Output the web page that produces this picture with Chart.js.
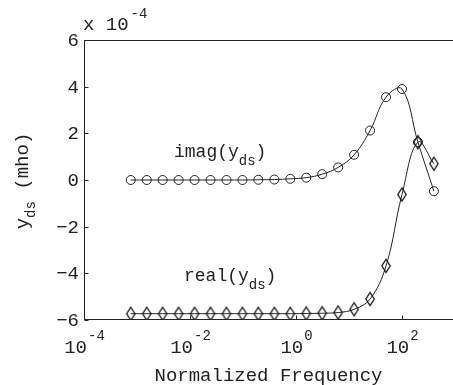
<!DOCTYPE html>
<html>
<head>
<meta charset="utf-8">
<script src="https://cdn.jsdelivr.net/npm/chart.js@4"></script>
<style>
html,body{margin:0;padding:0;background:#fff;overflow:hidden;}
#wrap{width:453px;height:385px;overflow:hidden;position:relative;}
canvas{display:block;}
</style>
</head>
<body>
<div id="wrap"><canvas id="c" width="462" height="385"></canvas></div>
<script>
// ---- data (y values in units of 1e-4 mho) ----
const freqs = [0.000763, 0.00153, 0.00305, 0.0061, 0.0122, 0.0244, 0.0488, 0.0977, 0.195, 0.391, 0.781, 1.5625, 3.125, 6.25, 12.5, 25, 50, 100, 200, 400];
const imagY = [0, 0, 0, 0, 0, 0, 0, 0, 0.01, 0.02, 0.05, 0.1, 0.25, 0.54, 1.08, 2.12, 3.55, 3.9, 1.62, -0.48];
const realY = [-5.73, -5.73, -5.73, -5.73, -5.73, -5.73, -5.73, -5.73, -5.73, -5.73, -5.73, -5.72, -5.71, -5.68, -5.54, -5.1, -3.68, -0.62, 1.62, 0.7];
const yTicks = [6, 4, 2, 0, -2, -4, -6];
const xTickExps = [-4, -2, 0, 2];
const xTitle = "Normalized Frequency";
const yTitleMain = "y";
const yTitleSub = "ds";
const yTitleRest = " (mho)";
const scaleBase = "x 10";
const scaleExp = "-4";
const imagLabel = ["imag(y", "ds", ")"];
const realLabel = ["real(y", "ds", ")"];

const INK = "#222";
const FONT = "'Liberation Mono', 'Courier New', monospace";

function makeDiamond() {
  const c = document.createElement('canvas');
  c.width = 12; c.height = 16;
  const g = c.getContext('2d');
  g.strokeStyle = "#111"; g.lineWidth = 1.3;
  g.beginPath();
  g.moveTo(6, 1.5); g.lineTo(10.2, 8); g.lineTo(6, 14.5); g.lineTo(1.8, 8); g.closePath();
  g.stroke();
  return c;
}

const decor = {
  id: 'decor',
  afterDraw(chart) {
    const ctx = chart.ctx, a = chart.chartArea;
    const xs = chart.scales.x, ys = chart.scales.y;
    ctx.save();
    ctx.strokeStyle = INK; ctx.fillStyle = INK; ctx.lineWidth = 1;
    // box
    ctx.strokeRect(Math.round(a.left) + 0.5, Math.round(a.top) + 0.5, Math.round(a.right - a.left), Math.round(a.bottom - a.top) - 1);
    const bottomY = Math.round(a.bottom) - 0.5;
    const leftX = Math.round(a.left) + 0.5;
    // inward ticks
    ctx.beginPath();
    yTicks.forEach(v => { const y = Math.round(ys.getPixelForValue(v)) + 0.5; ctx.moveTo(leftX, y); ctx.lineTo(leftX + 4, y); });
    xTickExps.forEach(e => { const x = Math.round(xs.getPixelForValue(Math.pow(10, e))) + 0.5; ctx.moveTo(x, bottomY); ctx.lineTo(x, bottomY - 4); });
    ctx.stroke();
    // y tick labels
    ctx.font = "19px " + FONT;
    ctx.textAlign = 'right'; ctx.textBaseline = 'middle';
    yTicks.forEach(v => { ctx.fillText(v < 0 ? '\u2212' + Math.abs(v) : String(v), a.left - 5, ys.getPixelForValue(v) + 1); });
    // x tick labels
    ctx.textBaseline = 'alphabetic'; ctx.textAlign = 'left';
    xTickExps.forEach(e => {
      const px = xs.getPixelForValue(Math.pow(10, e));
      ctx.font = "19px " + FONT; const wb = ctx.measureText("10").width;
      ctx.font = "14px " + FONT; const es = String(e); const we = ctx.measureText(es).width;
      const start = px - (wb + we) / 2;
      ctx.font = "19px " + FONT; ctx.fillText("10", start, 353);
      ctx.font = "14px " + FONT; ctx.fillText(es, start + wb + 1, 340);
    });
    // x title
    ctx.font = "19px " + FONT; ctx.textAlign = 'center';
    ctx.fillText(xTitle, (a.left + a.right) / 2 - 1, 381);
    // y title (rotated)
    ctx.save();
    ctx.translate(28, 0); ctx.rotate(-Math.PI / 2);
    ctx.textAlign = 'left';
    ctx.font = "19px " + FONT; const w1 = ctx.measureText(yTitleMain).width; const w3 = ctx.measureText(yTitleRest).width;
    ctx.font = "14px " + FONT; const w2 = ctx.measureText(yTitleSub).width;
    let sx = -181 - (w1 + w2 + w3) / 2;
    ctx.font = "19px " + FONT; ctx.fillText(yTitleMain, sx, 0);
    ctx.font = "14px " + FONT; ctx.fillText(yTitleSub, sx + w1, 7);
    ctx.font = "19px " + FONT; ctx.fillText(yTitleRest, sx + w1 + w2, 0);
    ctx.restore();
    // scale factor
    ctx.textAlign = 'left';
    ctx.font = "19px " + FONT; ctx.fillText(scaleBase, a.left - 1, 30);
    const wsb = ctx.measureText(scaleBase).width;
    ctx.font = "14px " + FONT; ctx.fillText(scaleExp, a.left - 1 + wsb + 2, 18);
    // annotations
    function label(parts, x, y) {
      ctx.font = "18px " + FONT; ctx.fillText(parts[0], x, y);
      const w0 = ctx.measureText(parts[0]).width;
      ctx.font = "14px " + FONT; ctx.fillText(parts[1], x + w0, y + 8);
      const wsub = ctx.measureText(parts[1]).width;
      ctx.font = "18px " + FONT; ctx.fillText(parts[2], x + w0 + wsub, y);
    }
    label(imagLabel, 174, 157);
    label(realLabel, 184, 281);
    ctx.restore();
  }
};

new Chart(document.getElementById('c'), {
  type: 'line',
  data: {
    labels: freqs,
    datasets: [
      {
        label: 'imag', data: freqs.map((f, i) => ({ x: f, y: imagY[i] })),
        borderColor: INK, borderWidth: 1, tension: 0.4,
        pointStyle: 'circle', pointRadius: 4.5, pointBorderWidth: 1,
        pointBorderColor: INK, pointBackgroundColor: 'rgba(0,0,0,0)', fill: false
      },
      {
        label: 'real', data: freqs.map((f, i) => ({ x: f, y: realY[i] })),
        borderColor: INK, borderWidth: 1, tension: 0.4,
        pointStyle: makeDiamond(), pointRadius: 6, pointBorderWidth: 1,
        pointBorderColor: INK, pointBackgroundColor: 'rgba(0,0,0,0)', fill: false
      }
    ]
  },
  options: {
    responsive: false, animation: false, devicePixelRatio: 1,
    layout: { padding: { left: 84, top: 40, right: 5, bottom: 65 } },
    plugins: { legend: { display: false }, tooltip: { enabled: false } },
    scales: {
      x: { type: 'logarithmic', min: 1e-4, max: 1e3, display: false },
      y: { type: 'linear', min: -6, max: 6, display: false }
    }
  },
  plugins: [decor]
});
</script>
</body>
</html>
